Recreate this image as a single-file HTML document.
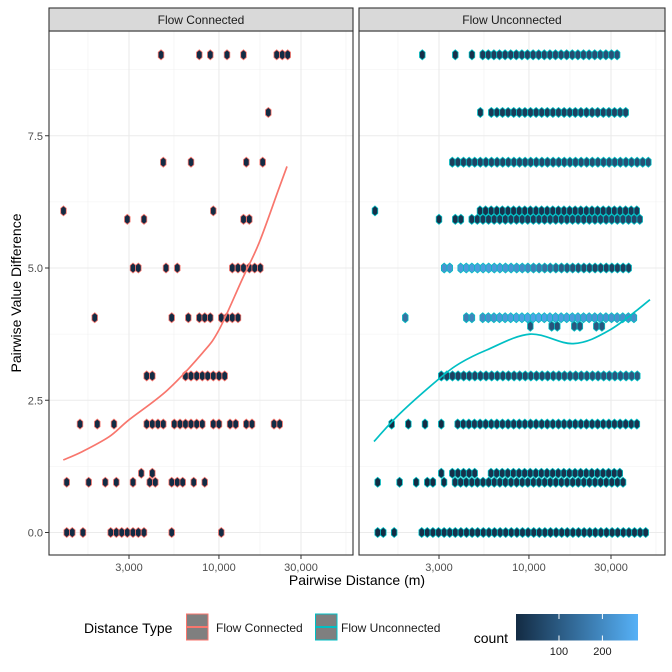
<!DOCTYPE html>
<html><head><meta charset="utf-8"><style>
html,body{margin:0;padding:0;background:#fff;}
svg{display:block;font-family:"Liberation Sans",Arial,sans-serif;}
</style></head><body>
<svg id="chart" width="672" height="672" viewBox="0 0 672 672">
<rect x="0" y="0" width="672" height="672" fill="#fff"/>
<g id="grid"></g>
<g id="marks"></g>
<g id="frame"></g>
<g id="axes"></g>
<text x="357" y="585" text-anchor="middle" font-size="14" fill="#000">Pairwise Distance (m)</text>
<text transform="translate(21,293) rotate(-90)" text-anchor="middle" font-size="14" fill="#000">Pairwise Value Difference</text>
<g>
<text x="84" y="633" font-size="14" fill="#000">Distance Type</text>
<g>
<rect x="186.5" y="614" width="21.5" height="26" fill="#7f7f7f" stroke="#F8766D" stroke-width="1"/>
<line x1="187" y1="627" x2="207.5" y2="627" stroke="#F8766D" stroke-width="2"/>
<text x="216" y="632" font-size="12" fill="#1a1a1a">Flow Connected</text>
</g>
<g>
<rect x="315.5" y="614" width="21.5" height="26" fill="#7f7f7f" stroke="#00BFC4" stroke-width="1"/>
<line x1="316" y1="627" x2="336.5" y2="627" stroke="#00BFC4" stroke-width="2"/>
<text x="341" y="632" font-size="12" fill="#1a1a1a">Flow Unconnected</text>
</g>
<text x="508" y="643" text-anchor="end" font-size="14" fill="#000">count</text>
<defs><linearGradient id="cb" x1="0" x2="1" y1="0" y2="0"><stop offset="0" stop-color="#132B43"/><stop offset="1" stop-color="#56B1F7"/></linearGradient></defs>
<rect x="516" y="614" width="122" height="26.5" fill="url(#cb)"/>
<g id="cbticks"></g>
</g>
</svg>
<script>
// ---------- data ----------
const xTickValues = [3000, 10000, 30000];
const xTickLabels = ["3,000", "10,000", "30,000"];
const xMinorValues = [1732, 5477, 17321, 54772];
const yTickValues = [0, 2.5, 5, 7.5];
const yTickLabels = ["0.0", "2.5", "5.0", "7.5"];
const yMinorValues = [1.25, 3.75, 6.25, 8.75];
const panelNames = ["Flow Connected", "Flow Unconnected"];
const countTicks = [100, 200];

// Flow Connected: hexagon bin centres (distance m) per row
const leftRowY = [0, 0.95, 1.12, 2.05, 2.96, 4.06, 5.0, 5.92, 6.08, 7.0, 7.94, 9.03];
const leftRowDist = [
  [1303,1404,1620,2348,2532,2722,2932,3165,3400,3667,5313,10322],
  [1303,1749,2184,2532,3165,3958,4266,5313,5728,6157,7135,8266],
  [3537,4099],
  [1557,1962,2454,3801,4099,4422,4748,5502,5940,6393,6881,7426,8005,9273,10010,11601,12517,14424,15571,20899,22553],
  [3801,4099,6393,6881,7426,8005,8603,9273,10010,10802],
  [1896,5313,6637,7688,8266,8907,10322,11141,11960,12907],
  [3165,3400,4924,5728,11960,12907,13893,15015,16140,17401],
  [2932,3667,13893,15015],
  [1248,9273],
  [4748,6881,14424,17965],
  [19366],
  [4606,7688,8907,11141,13893,21676,23357,25110]
];
const leftRowCount = [2,2,2,2,3,2,2,2,1,2,1,2];
const leftSmoothDist = [1245,1605,2295,3000,5010,8005,10010,13670,17093,22137,24872];
const leftSmoothVal = [1.37,1.53,1.81,2.13,2.69,3.39,3.83,4.79,5.47,6.47,6.92];

// Flow Unconnected: runs of adjacent hexagon bins (start distance, counts per bin)
const binWidthLog = 0.03256;
const rightRunY = [0,0,0, 0.95,0.95,0.95,0.95,0.95,0.95, 1.12,1.12,1.12, 2.05,2.05,2.05,2.05,2.05, 2.96, 3.9,3.9,3.9,3.9, 4.06,4.06,4.06, 5.0,5.0, 5.92,5.92,5.92, 6.08,6.08, 7.0, 7.94,7.94, 9.03,9.03,9.03,9.03];
const rightRunStart = [1320,1646,2380, 1320,1770,2210,2565,3210,3718, 3093,3585,6018, 1592,1990,2488,3093,3852, 3093, 10190,13560,18350,24640, 1910,4324,5385, 3216,4010, 3000,3731,4650, 1273,5192, 3585, 5217,6042, 2399,3731,4664,5385];
const rightRunCounts = [
  [4,3],[3],[14,16,15,17,16,18,17,16,18,17,19,18,17,18,19,18,17,18,19,18,17,18,19,18,17,18,19,18,17,18,19,18,17,18,17,16,17,16,15,16,14],
  [3],[3],[3],[4,4],[6],[18,20,19,21,20,22,21,20,22,21,22,21,20,22,21,20,21,20,22,21,20,21,20,19,20,19,18,19,18,17,16],
  [10],[14,15,15,16,16],[20,21,20,22,21,20,22,21,20,21,20,21,22,21,20,21,20,21,20,19,20,19,18,17],
  [3],[3],[3],[4],[22,24,25,26,27,28,27,28,29,28,27,28,29,28,27,28,29,28,27,28,29,28,27,28,27,26,27,26,25,26,25,24,23],
  [40,45,48,50,52,54,55,56,57,58,59,60,61,62,63,64,65,66,68,70,72,74,76,78,80,82,84,86,88,90,92,94,96,98,100,100],
  [85],[90,80],[95,90],[100,95],
  [150],[180,190],[205,215,220,230,235,240,245,248,250,252,255,250,248,245,242,240,238,235,232,230,228,225,222,220,218,215,212,210],
  [220,225],[235,238,240,242,240,238,235,232,228,222,215,205,195,180,165,150,135,120,105,95,85,75,68,62,58,55,52,50,48,46,45],
  [15],[20,20],[28,30,32,34,35,36,37,38,38,39,40,40,41,41,42,42,43,43,44,45,46,47,48,50,52,54,56,58,60,62,64],
  [10],[14,15,16,17,18,19,20,21,22,22,23,23,24,24,25,25,26,26,27,27,28,28,29,29,30,30,31,31,32],
  [40,44,48,50,52,54,56,57,58,59,60,61,62,63,64,65,66,67,68,69,70,71,72,73,74,75,76,77,78,79,80,80,80,80,80,80],
  [20],[30,32,34,35,36,37,38,39,40,41,42,43,44,45,46,47,48,49,50,51,52,53,54,55,56],
  [10],[15],[15],[40,42,44,46,48,50,52,54,56,58,60,62,64,66,68,70,72,74,76,78,80,82,84,86,88]
];
const rightSmoothDist = [1256,1780,3040,3976,5683,10140,18110,29600,50590];
const rightSmoothVal = [1.72,2.25,2.92,3.2,3.45,3.75,3.57,3.83,4.4];

// ---------- scales ----------
const NS = "http://www.w3.org/2000/svg";
const panels = [{x0:49, x1:353}, {x0:359, x1:665}];
const yTop = 31, yBot = 555;
const countMin = 1, countMax = 282;
function xScale(d, p){ return panels[p].x0 + 80 + 172*Math.log10(d/3000); }
function yScale(v){ return 532.5 - v*52.9; }
function colorFor(c){
  let t = Math.max(0, Math.min(1, (c-countMin)/(countMax-countMin)));
  const a=[19,43,67], b=[86,177,247];
  return "rgb(" + a.map((v,i)=>Math.round(v+(b[i]-v)*t)).join(",") + ")";
}
function mk(tag, attrs, parent){
  const el = document.createElementNS(NS, tag);
  for (const k in attrs) el.setAttribute(k, attrs[k]);
  parent.appendChild(el);
  return el;
}
const grid = document.getElementById("grid");
const marks = document.getElementById("marks");
const frame = document.getElementById("frame");
const axes = document.getElementById("axes");

panels.forEach((p, pi) => {
  const bg = mk("rect", {x:p.x0, y:yTop, width:p.x1-p.x0, height:yBot-yTop, fill:"#fff"}, grid);
  
  
  yMinorValues.forEach(v => {
    const l = mk("line", {x1:p.x0, x2:p.x1, y1:yScale(v), y2:yScale(v), stroke:"#F0F0F0", "stroke-width":0.6}, grid);
    
    
  });
  xMinorValues.forEach(d => {
    const x = xScale(d, pi); if (x < p.x0 || x > p.x1) return;
    const l = mk("line", {x1:x, x2:x, y1:yTop, y2:yBot, stroke:"#F0F0F0", "stroke-width":0.6}, grid);
    
    
  });
  yTickValues.forEach(v => {
    const l = mk("line", {x1:p.x0, x2:p.x1, y1:yScale(v), y2:yScale(v), stroke:"#EBEBEB", "stroke-width":1.1}, grid);
    
    
  });
  xTickValues.forEach((d, i) => {
    const x = xScale(d, pi);
    const l = mk("line", {x1:x, x2:x, y1:yTop, y2:yBot, stroke:"#EBEBEB", "stroke-width":1.1}, grid);
    
    
    const t = mk("line", {x1:x, x2:x, y1:yBot, y2:yBot+4, stroke:"#333", "stroke-width":1}, axes);
    
    
    const tx = mk("text", {x:x, y:yBot+16, "text-anchor":"middle", "font-size":11, fill:"#4d4d4d"}, axes);
    tx.textContent = xTickLabels[i];
    
    
  });
  const b = mk("rect", {x:p.x0, y:yTop, width:p.x1-p.x0, height:yBot-yTop, fill:"none", stroke:"#333", "stroke-width":1.1}, frame);
  
  
  const s = mk("rect", {x:p.x0, y:8, width:p.x1-p.x0, height:yTop-8, fill:"#D9D9D9", stroke:"#333", "stroke-width":1.1}, frame);
  
  
  const st = mk("text", {x:(p.x0+p.x1)/2, y:24, "text-anchor":"middle", "font-size":12, fill:"#1a1a1a"}, frame);
  st.textContent = panelNames[pi];
  
  
});
yTickValues.forEach((v, i) => {
  const t = mk("line", {x1:45, x2:49, y1:yScale(v), y2:yScale(v), stroke:"#333", "stroke-width":1}, axes);
  
  
  const tx = mk("text", {x:43, y:yScale(v)+4, "text-anchor":"end", "font-size":11, fill:"#4d4d4d"}, axes);
  tx.textContent = yTickLabels[i];
  
  
});

function hex(cx, cy, fill, stroke){
  const hw = 2.8, h1 = 2.6, h2 = 5.0;
  const pts = [[cx,cy-h2],[cx+hw,cy-h1],[cx+hw,cy+h1],[cx,cy+h2],[cx-hw,cy+h1],[cx-hw,cy-h1]].map(q=>q[0].toFixed(2)+","+q[1].toFixed(2)).join(" ");
  return mk("polygon", {points:pts, fill:fill, stroke:stroke, "stroke-width":0.8}, marks);
}
leftRowY.forEach((v, r) => {
  leftRowDist[r].forEach(d => {
    const h = hex(xScale(d,0), yScale(v), colorFor(leftRowCount[r]), "#F8766D");
    
    
  });
});
rightRunY.forEach((v, r) => {
  rightRunCounts[r].forEach((c, i) => {
    const d = rightRunStart[r] * Math.pow(10, i*binWidthLog);
    const h = hex(xScale(d,1), yScale(v), colorFor(c), "#00BFC4");
    
    
  });
});
function smooth(ds, vs, p, color, name){
  const pts = ds.map((d,i)=>[xScale(d,p), yScale(vs[i])]);
  let path = "M"+pts[0][0].toFixed(1)+","+pts[0][1].toFixed(1);
  for (let i=0;i<pts.length-1;i++){
    const p0=pts[Math.max(0,i-1)], p1=pts[i], p2=pts[i+1], p3=pts[Math.min(pts.length-1,i+2)];
    const c1=[p1[0]+(p2[0]-p0[0])/6, p1[1]+(p2[1]-p0[1])/6];
    const c2=[p2[0]-(p3[0]-p1[0])/6, p2[1]-(p3[1]-p1[1])/6];
    path += " C"+c1.map(n=>n.toFixed(1)).join(",")+" "+c2.map(n=>n.toFixed(1)).join(",")+" "+p2.map(n=>n.toFixed(1)).join(",");
  }
  const el = mk("path", {d:path, fill:"none", stroke:color, "stroke-width":1.7}, marks);
  
  
}
smooth(leftSmoothDist, leftSmoothVal, 0, "#F8766D", "smooth-line-flow-connected");
smooth(rightSmoothDist, rightSmoothVal, 1, "#00BFC4", "smooth-line-flow-unconnected");

const cbg = document.getElementById("cbticks");
countTicks.forEach(c => {
  const x = 516 + 122*(c-countMin)/(countMax-countMin);
  const a = mk("line", {x1:x, x2:x, y1:614, y2:619, stroke:"#fff", "stroke-width":1}, cbg);
  
  
  const b = mk("line", {x1:x, x2:x, y1:635.5, y2:640.5, stroke:"#fff", "stroke-width":1}, cbg);
  
  
  const t = mk("text", {x:x, y:655, "text-anchor":"middle", "font-size":11, fill:"#1a1a1a"}, cbg);
  t.textContent = String(c);
  
  
});
</script>
</body></html>
